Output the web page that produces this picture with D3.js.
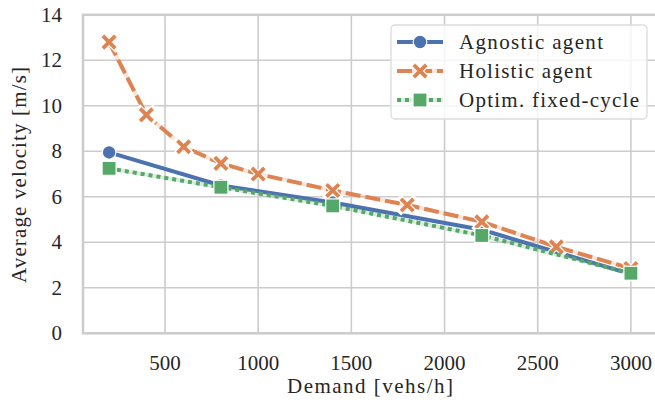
<html><head><meta charset="utf-8">
<script src="https://cdn.jsdelivr.net/npm/d3@7/dist/d3.min.js"></script></head>
<body style="margin:0">
<script>
// data
var agnosticX = [200, 800, 1400, 2200, 3000];
var agnosticY = [7.95, 6.5, 5.75, 4.55, 2.6];
var holisticX = [200, 400, 600, 800, 1000, 1400, 1800, 2200, 2600, 3000];
var holisticY = [12.8, 9.6, 8.2, 7.47, 7.0, 6.28, 5.64, 4.9, 3.8, 2.85];
var fixedX = [200, 800, 1400, 2200, 3000];
var fixedY = [7.25, 6.42, 5.6, 4.3, 2.64];
var xTicks = [500, 1000, 1500, 2000, 2500, 3000];
var yTicks = [0, 2, 4, 6, 8, 10, 12, 14];
var seriesNames = ["Agnostic agent", "Holistic agent", "Optim. fixed-cycle"];
var nameWidths = [144, 133, 180];

var W = 655, H = 407;
var svg = d3.select("body").append("svg").attr("width", W).attr("height", H);

var x = d3.scaleLinear().domain([60, 3140]).range([83, 657]);
var y = d3.scaleLinear().domain([0, 14]).range([333.3, 14.8]);

var grid = "#cccccc", ink = "#262626";

function label(sel) {
  return sel.attr("font-family", "'Liberation Serif'").attr("font-size", 21).attr("fill", ink);
}

// grid lines
svg.selectAll(".gx").data(xTicks).enter().append("line")
  .attr("x1", d => x(d)).attr("x2", d => x(d))
  .attr("y1", y(14)).attr("y2", y(0))
  .attr("stroke", grid).attr("stroke-width", 1.6);
svg.selectAll(".gy").data(yTicks).enter().append("line")
  .attr("x1", x(60)).attr("x2", x(3140))
  .attr("y1", d => y(d)).attr("y2", d => y(d))
  .attr("stroke", grid).attr("stroke-width", 1.6);
// spines
svg.append("rect")
  .attr("x", x(60)).attr("y", y(14))
  .attr("width", x(3140) - x(60)).attr("height", y(0) - y(14))
  .attr("fill", "none").attr("stroke", grid).attr("stroke-width", 2.5);

// tick labels
label(svg.selectAll(".tx").data(xTicks).enter().append("text"))
  .attr("x", d => x(d)).attr("y", 370)
  .attr("text-anchor", "middle")
  .text(d => d);
label(svg.selectAll(".ty").data(yTicks).enter().append("text"))
  .attr("x", 62).attr("y", d => y(d) + 7)
  .attr("text-anchor", "end")
  .text(d => d);

label(svg.append("text")).attr("x", 370).attr("y", 393)
  .attr("text-anchor", "middle")
  .attr("textLength", 166).attr("lengthAdjust", "spacing")
  .text("Demand [vehs/h]");
label(svg.append("text")).attr("transform", "translate(26,175) rotate(-90)")
  .attr("text-anchor", "middle")
  .attr("textLength", 216).attr("lengthAdjust", "spacing")
  .text("Average velocity [m/s]");

var series = [
  { xs: agnosticX, ys: agnosticY, color: "#4c72b0", dash: null, marker: "circle" },
  { xs: holisticX, ys: holisticY, color: "#dd8452", dash: "15,5", marker: "x" },
  { xs: fixedX, ys: fixedY, color: "#55a868", dash: "4,4", marker: "square" }
];

var line = d3.line().x(d => x(d[0])).y(d => y(d[1]));

function drawMarker(g, type, cx, cy, color) {
  if (type === "circle") {
    g.append("circle").attr("cx", cx).attr("cy", cy).attr("r", 6.8)
      .attr("fill", color).attr("stroke", "#fff").attr("stroke-width", 1.2);
  } else if (type === "square") {
    g.append("rect").attr("x", cx - 7).attr("y", cy - 7)
      .attr("width", 14).attr("height", 14)
      .attr("fill", color).attr("stroke", "#fff").attr("stroke-width", 1.2);
  } else {
    var s = 6.2;
    var p = "M" + (cx - s) + "," + (cy - s) + "L" + (cx + s) + "," + (cy + s) +
            "M" + (cx - s) + "," + (cy + s) + "L" + (cx + s) + "," + (cy - s);
    g.append("path").attr("d", p).attr("stroke", "#fff").attr("stroke-width", 6.2)
      .attr("stroke-linecap", "square");
    g.append("path").attr("d", p).attr("stroke", color).attr("stroke-width", 3.8)
      .attr("stroke-linecap", "butt");
  }
}

series.forEach(function (s) {
  var pts = s.xs.map((v, i) => [v, s.ys[i]]);
  var g = svg.append("g");
  if (s.dash) {
    g.append("path").attr("d", line(pts)).attr("fill", "none")
      .attr("stroke", s.color).attr("stroke-opacity", 0.22).attr("stroke-width", 4);
  }
  g.append("path").attr("d", line(pts)).attr("fill", "none")
    .attr("stroke", s.color).attr("stroke-width", 4)
    .attr("stroke-dasharray", s.dash);
  pts.forEach(p => drawMarker(g, s.marker, x(p[0]), y(p[1]), s.color));
});

// legend
var lg = svg.append("g");
lg.append("rect").attr("x", 391).attr("y", 25).attr("width", 256).attr("height", 94)
  .attr("rx", 4).attr("fill", "#fff").attr("fill-opacity", 0.8)
  .attr("stroke", "#dcdcdc").attr("stroke-width", 1.3);
series.forEach(function (s, i) {
  var ly = 42 + i * 29;
  if (s.dash) {
    lg.append("line").attr("x1", 397).attr("x2", 443).attr("y1", ly).attr("y2", ly)
      .attr("stroke", s.color).attr("stroke-opacity", 0.22).attr("stroke-width", 4);
  }
  lg.append("line").attr("x1", 397).attr("x2", 443).attr("y1", ly).attr("y2", ly)
    .attr("stroke", s.color).attr("stroke-width", 4)
    .attr("stroke-dasharray", s.dash);
  drawMarker(lg, s.marker, 420, ly, s.color);
  label(lg.append("text")).attr("x", 459).attr("y", ly + 7)
    .attr("textLength", nameWidths[i]).attr("lengthAdjust", "spacing")
    .text(seriesNames[i]);
});
</script>
</body>
</html>
